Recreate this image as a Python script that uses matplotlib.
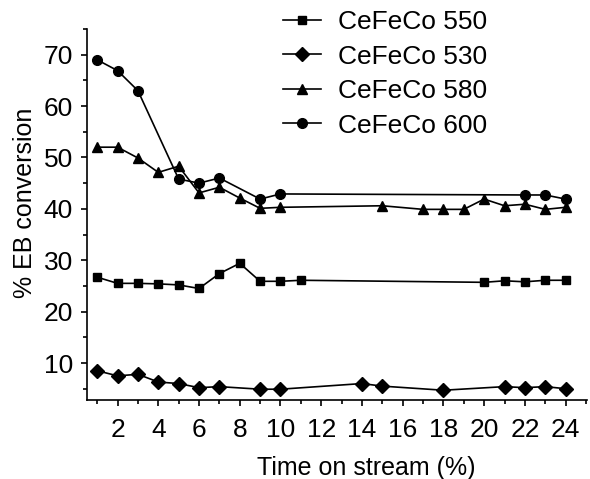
import numpy as np
import matplotlib
matplotlib.use("Agg")
import matplotlib.pyplot as plt
from matplotlib.ticker import MultipleLocator

plt.rcParams['font.family'] = ['Liberation Sans', 'DejaVu Sans']

# Values.
x_550 = [1, 2, 3, 4, 5, 6, 7, 8, 9, 10, 11, 20, 21, 22, 23, 24]
y_550 = [26.7, 25.5, 25.5, 25.4, 25.2, 24.5, 27.4, 29.4, 25.9, 25.9, 26.1,
         25.7, 26.0, 25.8, 26.1, 26.1]

x_530 = [1, 2, 3, 4, 5, 6, 7, 9, 10, 14, 15, 18, 21, 22, 23, 24]
y_530 = [8.5, 7.5, 7.8, 6.3, 6.0, 5.2, 5.4, 4.9, 4.9, 6.0, 5.5, 4.7,
         5.4, 5.2, 5.4, 5.0]

x_580 = [1, 2, 3, 4, 5, 6, 7, 8, 9, 10, 15, 17, 18, 19, 20, 21, 22, 23, 24]
y_580 = [52.0, 52.0, 49.9, 47.1, 48.3, 43.1, 44.2, 42.1, 40.1, 40.3, 40.6,
         39.9, 39.9, 39.9, 41.9, 40.6, 40.9, 39.9, 40.3]

x_600 = [1, 2, 3, 5, 6, 7, 9, 10, 22, 23, 24]
y_600 = [69.0, 66.9, 63.0, 45.8, 45.0, 46.0, 41.9, 42.9, 42.7, 42.7, 41.9]

labels = ["CeFeCo 550", "CeFeCo 530", "CeFeCo 580", "CeFeCo 600"]

fig = plt.figure(figsize=(5.9, 4.79), dpi=100)
ax = fig.add_axes([87 / 590, 1 - 400 / 479, 500 / 590, 371 / 479])

ax.plot(x_550, y_550, color="black", lw=1.2, marker="s", ms=6, label=labels[0])
ax.plot(x_530, y_530, color="black", lw=1.2, marker="D", ms=7, label=labels[1])
ax.plot(x_580, y_580, color="black", lw=1.2, marker="^", ms=7.5, label=labels[2])
ax.plot(x_600, y_600, color="black", lw=1.2, marker="o", ms=7, label=labels[3])

ax.set_xlim(0.5, 25.05)
ax.set_ylim(2.8, 75)
ax.spines["top"].set_visible(False)
ax.spines["right"].set_visible(False)
ax.spines["left"].set_linewidth(1.2)
ax.spines["bottom"].set_linewidth(1.2)

ax.xaxis.set_major_locator(MultipleLocator(2))
ax.xaxis.set_minor_locator(MultipleLocator(1))
ax.yaxis.set_minor_locator(MultipleLocator(5))
ax.set_yticks([10, 20, 30, 40, 50, 60, 70])
ax.tick_params(axis="both", which="major", labelsize=19, length=4, width=1.2)
ax.tick_params(axis="both", which="minor", length=3, width=1.2)
ax.tick_params(axis="x", pad=9)
ax.tick_params(axis="y", pad=6)

ax.set_xlabel("Time on stream (%)", fontsize=18)
ax.set_ylabel("% EB conversion", fontsize=18)
ax.xaxis.set_label_coords(0.559, -0.152)
ax.yaxis.set_label_coords(-0.1, 0.532)

ax.legend(loc="upper left", bbox_to_anchor=(283 / 590, 1 - 10 / 479),
          bbox_transform=fig.transFigure, frameon=False, fontsize=19,
          borderpad=0, borderaxespad=0, labelspacing=0.4,
          handlelength=1.45, handletextpad=0.62)

fig.savefig("out.png", dpi=100)
